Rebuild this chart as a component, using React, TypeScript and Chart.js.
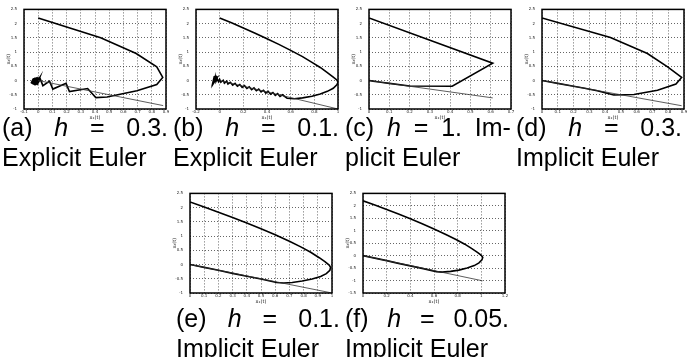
import React, { useEffect, useRef } from "react";
import { Chart, registerables } from "chart.js";
Chart.register(...registerables);

// ---------- data ----------
const yTicksStd = [-1, -0.5, 0, 0.5, 1, 1.5, 2, 2.5];
const yTicksF = [-1.5, -1, -0.5, 0, 0.5, 1, 1.5, 2, 2.5];
const xTicksA = [-0.1, 0, 0.1, 0.2, 0.3, 0.4, 0.5, 0.6, 0.7, 0.8, 0.9];
const xTicksB = [-0.2, 0, 0.2, 0.4, 0.6, 0.8, 1];
const xTicksC = [0, 0.1, 0.2, 0.3, 0.4, 0.5, 0.6, 0.7];
const xTicksD = [0, 0.1, 0.2, 0.3, 0.4, 0.5, 0.6, 0.7, 0.8, 0.9];
const xTicksE = [0, 0.1, 0.2, 0.3, 0.4, 0.5, 0.6, 0.7, 0.8, 0.9, 1];
const xTicksF = [0, 0.2, 0.4, 0.6, 0.8, 1, 1.2];

// (a) h = 0.3, explicit Euler
const aTrajX = [0, 0.44, 0.69, 0.835, 0.877, 0.835, 0.695, 0.485, 0.406, 0.348, 0.22, 0.196, 0.103, 0.08, 0.033, 0.015, -0.01, 0.01, -0.025, 0.0, -0.035, -0.01, -0.04, -0.02, -0.045, -0.03, -0.05, -0.035, -0.045];
const aTrajY = [2.2, 1.5, 0.95, 0.48, 0.11, -0.14, -0.36, -0.58, -0.6, -0.28, -0.39, -0.1, -0.3, -0.02, -0.18, 0.05, -0.16, 0.1, -0.17, 0.12, -0.14, 0.11, -0.13, 0.1, -0.12, 0.08, -0.1, 0.06, -0.05];
const aLineX = [0, 0.88];
const aLineY = [0, -0.88];

// (b) h = 0.1, explicit Euler
const bTrajX = [0, 0.1, 0.2, 0.3, 0.4, 0.5, 0.6, 0.7, 0.78, 0.85, 0.91, 0.96, 0.99, 1.0, 0.99, 0.96, 0.91, 0.85, 0.78, 0.7, 0.63, 0.57,
  0.53, 0.51, 0.49, 0.47, 0.45, 0.43, 0.41, 0.39, 0.37, 0.35, 0.33, 0.31, 0.29, 0.27, 0.25, 0.23, 0.21, 0.19, 0.17, 0.15, 0.13, 0.11, 0.09, 0.07, 0.06, 0.04, 0.03, 0.01, 0.0, -0.01, -0.02, -0.03, -0.03, -0.04, -0.04, -0.05, -0.045, -0.055, -0.03, -0.05, -0.02, -0.05];
const bTrajY = [2.2, 2.03, 1.85, 1.66, 1.47, 1.27, 1.06, 0.84, 0.64, 0.46, 0.28, 0.12, 0.02, -0.06, -0.15, -0.27, -0.38, -0.47, -0.55, -0.61, -0.64, -0.62,
  -0.5, -0.56, -0.46, -0.52, -0.42, -0.48, -0.38, -0.44, -0.34, -0.4, -0.3, -0.36, -0.26, -0.32, -0.22, -0.28, -0.18, -0.24, -0.14, -0.2, -0.1, -0.16, -0.06, -0.12, -0.02, -0.09, 0.01, -0.06, 0.04, -0.04, 0.06, -0.02, 0.07, 0.0, 0.1, -0.05, 0.15, -0.03, 0.18, -0.08, 0.12, 0.05];
const bLineX = [0, 1.0];
const bLineY = [0, -1.0];

// (c) h = 1, implicit Euler
const cTrajX = [0, 0.61, 0.41, 0.2, 0.1, 0.05, 0.02, 0];
const cTrajY = [2.2, 0.61, -0.2, -0.19, -0.1, -0.05, -0.02, 0];
const cLineX = [0, 0.61];
const cLineY = [0, -0.61];

// (d) h = 0.3, implicit Euler
const dTrajX = [0, 0.434, 0.668, 0.796, 0.885, 0.849, 0.732, 0.583, 0.455, 0.35, 0.27, 0.2, 0.1, 0];
const dTrajY = [2.2, 1.51, 0.95, 0.48, 0.11, -0.125, -0.34, -0.49, -0.51, -0.36, -0.27, -0.2, -0.1, 0];
const dLineX = [0, 0.885];
const dLineY = [0, -0.885];

// (e) h = 0.1, implicit Euler
const eTrajX = [0, 0.1, 0.2, 0.3, 0.4, 0.5, 0.6, 0.7, 0.78, 0.85, 0.91, 0.95, 0.98, 0.99, 0.985, 0.96, 0.92, 0.86, 0.79, 0.72, 0.66, 0.61, 0.5, 0.4, 0.3, 0.2, 0.1, 0];
const eTrajY = [2.2, 2.02, 1.84, 1.65, 1.46, 1.26, 1.05, 0.82, 0.62, 0.43, 0.24, 0.1, -0.02, -0.1, -0.2, -0.32, -0.42, -0.51, -0.58, -0.63, -0.65, -0.63, -0.51, -0.41, -0.31, -0.2, -0.1, 0];
const eLineX = [0, 0.99];
const eLineY = [0, -0.99];

// (f) h = 0.05, implicit Euler
const fTrajX = [0, 0.1, 0.2, 0.3, 0.4, 0.5, 0.6, 0.7, 0.79, 0.86, 0.92, 0.97, 1.0, 1.012, 1.005, 0.98, 0.94, 0.88, 0.81, 0.74, 0.67, 0.62, 0.5, 0.4, 0.3, 0.2, 0.1, 0];
const fTrajY = [2.2, 2.03, 1.85, 1.67, 1.48, 1.28, 1.07, 0.85, 0.64, 0.46, 0.28, 0.12, 0.01, -0.07, -0.17, -0.29, -0.4, -0.5, -0.58, -0.63, -0.66, -0.64, -0.51, -0.41, -0.31, -0.2, -0.1, 0];
const fLineX = [0, 1.01];
const fLineY = [0, -1.01];

const captionTop = [
  { words: ["(a)", "h", "=", "0.3."], line2: "Explicit Euler" },
  { words: ["(b)", "h", "=", "0.1."], line2: "Explicit Euler" },
  { words: ["(c)", "h", "=", "1.", "Im-"], line2: "plicit Euler" },
  { words: ["(d)", "h", "=", "0.3."], line2: "Implicit Euler" },
];
const captionBottom = [
  { words: ["(e)", "h", "=", "0.1."], line2: "Implicit Euler" },
  { words: ["(f)", "h", "=", "0.05."], line2: "Implicit Euler" },
];

// ---------- layout ----------
const PLOT_W = 142;
const AX_L = 24;
const PAD_T = 8;
const PAD_R = 6;
const AX_B = 14;
const AXFONT = "'DejaVu Sans', sans-serif";

type PanelCfg = {
  left: number; top: number; h: number;
  xMin: number; xMax: number; xTicks: number[];
  yMin: number; yMax: number; yTicks: number[];
  trajX: number[]; trajY: number[]; lineX: number[]; lineY: number[];
};

const panels: PanelCfg[] = [
  { left: 24, top: 8, h: 101, xMin: -0.1, xMax: 0.9, xTicks: xTicksA, yMin: -1, yMax: 2.5, yTicks: yTicksStd, trajX: aTrajX, trajY: aTrajY, lineX: aLineX, lineY: aLineY },
  { left: 196, top: 8, h: 101, xMin: -0.2, xMax: 1.0, xTicks: xTicksB, yMin: -1, yMax: 2.5, yTicks: yTicksStd, trajX: bTrajX, trajY: bTrajY, lineX: bLineX, lineY: bLineY },
  { left: 369, top: 8, h: 101, xMin: 0, xMax: 0.7, xTicks: xTicksC, yMin: -1, yMax: 2.5, yTicks: yTicksStd, trajX: cTrajX, trajY: cTrajY, lineX: cLineX, lineY: cLineY },
  { left: 542, top: 8, h: 101, xMin: 0, xMax: 0.9, xTicks: xTicksD, yMin: -1, yMax: 2.5, yTicks: yTicksStd, trajX: dTrajX, trajY: dTrajY, lineX: dLineX, lineY: dLineY },
  { left: 190, top: 192, h: 101, xMin: 0, xMax: 1.0, xTicks: xTicksE, yMin: -1, yMax: 2.5, yTicks: yTicksStd, trajX: eTrajX, trajY: eTrajY, lineX: eLineX, lineY: eLineY },
  { left: 363, top: 192, h: 101, xMin: 0, xMax: 1.2, xTicks: xTicksF, yMin: -1.5, yMax: 2.5, yTicks: yTicksF, trajX: fTrajX, trajY: fTrajY, lineX: fLineX, lineY: fLineY },
];

const framePlugin = {
  id: "frame",
  afterDatasetsDraw(chart: any) {
    const { ctx, chartArea: a } = chart;
    ctx.save();
    ctx.strokeStyle = "#000";
    ctx.lineWidth = 1.5;
    ctx.strokeRect(a.left, a.top, a.right - a.left, a.bottom - a.top);
    ctx.restore();
  },
};

const fmt = (v: any) => String(Math.round(Number(v) * 100) / 100);

function Panel({ cfg }: { cfg: PanelCfg }) {
  const ref = useRef<HTMLCanvasElement>(null);
  const w = PLOT_W + AX_L + PAD_R;
  const hh = cfg.h + PAD_T + AX_B;
  useEffect(() => {
    const c = ref.current!;
    const gridCommon = { color: "rgba(0,0,0,0.6)", lineWidth: 1, drawTicks: false };
    const chart = new Chart(c, {
      type: "scatter",
      data: {
        datasets: [
          {
            data: cfg.lineX.map((x, i) => ({ x, y: cfg.lineY[i] })),
            showLine: true, borderColor: "#333", borderWidth: 0.8, pointRadius: 0,
          },
          {
            data: cfg.trajX.map((x, i) => ({ x, y: cfg.trajY[i] })),
            showLine: true, borderColor: "#000", borderWidth: 1.6, pointRadius: 0,
          },
        ],
      },
      options: {
        responsive: false,
        animation: false,
        devicePixelRatio: 1,
        layout: { padding: { left: 0, top: PAD_T, right: PAD_R, bottom: 0 } },
        plugins: { legend: { display: false }, tooltip: { enabled: false } },
        scales: {
          x: {
            type: "linear",
            min: cfg.xMin, max: cfg.xMax,
            afterBuildTicks: (s: any) => { s.ticks = cfg.xTicks.map((v) => ({ value: v })); },
            afterFit: (s: any) => { s.height = AX_B; },
            ticks: { font: { size: 4, family: AXFONT }, color: "#222", padding: 1, maxRotation: 0, autoSkip: false, callback: fmt },
            grid: gridCommon,
            border: { display: false, dash: [1, 2] },
            title: { display: true, text: "x\u2081(t)", font: { size: 5, family: AXFONT }, color: "#222", padding: { top: 0, bottom: 2 } },
          },
          y: {
            type: "linear",
            min: cfg.yMin, max: cfg.yMax,
            afterBuildTicks: (s: any) => { s.ticks = cfg.yTicks.map((v) => ({ value: v })); },
            afterFit: (s: any) => { s.width = AX_L; },
            ticks: { font: { size: 4, family: AXFONT }, color: "#222", padding: 7, autoSkip: false, callback: fmt },
            grid: gridCommon,
            border: { display: false, dash: [1, 2] },
            title: { display: true, text: "x\u2082(t)", font: { size: 5, family: AXFONT }, color: "#222", padding: { top: 6, bottom: 0 } },
          },
        },
      },
      plugins: [framePlugin],
    } as any);
    return () => chart.destroy();
  }, []);
  return (
    <canvas
      ref={ref}
      width={w}
      height={hh}
      style={{ position: "absolute", left: cfg.left - AX_L, top: cfg.top - PAD_T, width: w, height: hh }}
    />
  );
}

const CAPFONT = "'Liberation Sans', Arial, sans-serif";

function Caption({ words, line2, left, top, width }: { words: string[]; line2: string; left: number; top: number; width: number }) {
  return (
    <div style={{ position: "absolute", left, top, width, fontFamily: CAPFONT, fontSize: 25, lineHeight: "30px", color: "#000" }}>
      <div style={{ display: "flex", justifyContent: "space-between", whiteSpace: "nowrap" }}>
        {words.map((w, i) => (
          <span key={i} style={{ fontStyle: w === "h" ? "italic" : "normal" }}>{w}</span>
        ))}
      </div>
      <div style={{ whiteSpace: "nowrap" }}>{line2}</div>
    </div>
  );
}

const capTopLefts = [2, 173, 345, 516];
const capBottomLefts = [176, 345];

export default function App() {
  return (
    <div style={{ position: "absolute", left: 0, top: 0, width: 687, height: 357, background: "#fff", overflow: "hidden" }}>
      {panels.map((p, i) => (
        <Panel key={i} cfg={p} />
      ))}
      {captionTop.map((c, i) => (
        <Caption key={"t" + i} words={c.words} line2={c.line2} left={capTopLefts[i]} top={112} width={166} />
      ))}
      {captionBottom.map((c, i) => (
        <Caption key={"b" + i} words={c.words} line2={c.line2} left={capBottomLefts[i]} top={303} width={164} />
      ))}
    </div>
  );
}
